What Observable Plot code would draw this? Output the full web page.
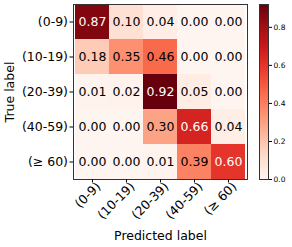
<!DOCTYPE html>
<html><head>
<meta charset="utf-8">
<script src="https://cdn.jsdelivr.net/npm/d3@7"></script>
<script src="https://cdn.jsdelivr.net/npm/@observablehq/plot@0.6"></script>
<style>
body{margin:0;background:#fff}
#wrap{position:relative;width:292px;height:247px;overflow:hidden}
#wrap svg{position:absolute;left:0;top:0}
</style>
</head><body><div id="wrap"></div>
<script>
const classLabels = ["(0-9)","(10-19)","(20-39)","(40-59)","(≥ 60)"];
const row0 = [0.87,0.10,0.04,0.00,0.00];
const row1 = [0.18,0.35,0.46,0.00,0.00];
const row2 = [0.01,0.02,0.92,0.05,0.00];
const row3 = [0.00,0.00,0.30,0.66,0.04];
const row4 = [0.00,0.00,0.01,0.39,0.60];
const colorTicks = [0.0,0.2,0.4,0.6,0.8];
const vmax = 0.92;

const rows = [row0,row1,row2,row3,row4];
const cells = [];
rows.forEach((r,i)=>r.forEach((v,j)=>cells.push({t:classLabels[i],p:classLabels[j],v})));
const thr = vmax/2;
const font = "DejaVu Sans, sans-serif";

const main = Plot.plot({
  width:292, height:247,
  marginLeft:73, marginRight:45, marginTop:4, marginBottom:68,
  style:{fontFamily:font, fontSize:"12.5px", background:"transparent", color:"#000"},
  x:{domain:classLabels, padding:0},
  y:{domain:classLabels, padding:0},
  color:{type:"linear", scheme:"reds", domain:[0,vmax]},
  marks:[
    Plot.cell(cells,{x:"p",y:"t",fill:"v"}),
    Plot.text(cells,{x:"p",y:"t",text:d=>d.v.toFixed(2),fill:d=>d.v>thr?"white":"black",fontSize:12.5}),
    Plot.frame({stroke:"#333"}),
    Plot.axisX({tickRotate:-45, tickSize:3.5, tickPadding:2, fontSize:12.5, label:null, text:null}),
    Plot.axisX({tickRotate:-45, tickSize:0, tickPadding:2, dx:6, dy:3, fontSize:12.5, label:"Predicted label", labelAnchor:"center", labelArrow:"none", labelOffset:60}),
    Plot.axisY({tickSize:3.5, tickPadding:2, fontSize:12.5, label:"True label", labelAnchor:"center", labelArrow:"none", labelOffset:68})
  ]
});

const bar = Plot.plot({
  width:292, height:247,
  marginLeft:259, marginRight:24, marginTop:4, marginBottom:68,
  style:{fontFamily:font, fontSize:"7.5px", background:"transparent", color:"#000"},
  x:{domain:[0,1], axis:null},
  y:{domain:[0,vmax]},
  color:{type:"linear", scheme:"reds", domain:[0,vmax]},
  marks:[
    Plot.raster({fill:(x,y)=>y, x1:0, x2:1, y1:0, y2:vmax, width:2, height:300, imageRendering:"auto"}),
    Plot.frame({stroke:"#333"}),
    Plot.axisY({anchor:"right", ticks:colorTicks, tickFormat:d3.format(".1f"), tickSize:3, tickPadding:2, fontSize:7.5, label:null})
  ]
});

document.getElementById("wrap").append(main, bar);
</script>
</body></html>
